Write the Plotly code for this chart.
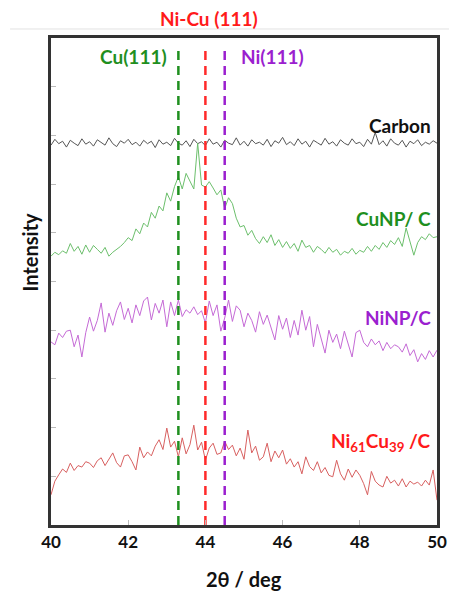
import numpy as np
import plotly.graph_objects as go

two_theta = [round(40 + 0.1 * i, 1) for i in range(101)]

carbon = [7.80,7.92,7.83,7.88,7.76,7.90,7.84,7.79,7.93,7.82,
          7.87,7.78,7.91,7.85,7.80,7.95,7.83,7.77,7.89,7.84,
          7.92,7.81,7.86,7.78,7.90,7.83,7.88,7.75,7.91,7.82,
          7.86,7.79,7.94,7.84,7.80,7.89,7.77,7.92,7.83,7.87,
          7.79,7.93,7.82,7.86,7.76,7.90,7.84,7.81,7.95,7.80,
          7.88,7.78,7.91,7.83,7.86,7.80,7.92,7.77,7.89,7.84,
          7.96,7.81,7.87,7.79,7.93,7.82,7.88,7.76,7.90,7.85,
          7.80,7.94,7.82,7.87,7.78,7.91,7.84,7.80,7.93,7.83,
          7.86,7.77,7.92,7.82,8.06,7.81,7.89,7.78,7.93,7.84,
          7.80,7.90,7.76,7.88,7.83,7.91,7.79,7.86,7.82,7.89,
          7.84]

cunp_c = [5.52,5.60,5.55,5.63,5.58,5.78,5.62,5.72,5.56,5.75,
          5.60,5.74,5.66,5.58,5.70,5.52,5.60,5.66,5.72,5.80,
          5.90,5.84,6.08,5.98,6.20,6.12,6.42,6.30,6.55,6.45,
          6.82,6.65,6.95,7.15,6.90,7.22,7.05,6.90,7.84,6.98,
          6.94,7.05,6.92,6.78,6.88,6.50,6.72,6.60,6.30,6.12,
          6.15,5.95,6.05,5.88,5.78,5.92,5.80,5.96,5.74,5.86,
          5.70,5.82,5.68,5.78,5.62,5.85,5.70,5.74,5.60,5.72,
          5.66,5.58,5.70,5.60,5.66,5.54,5.62,5.58,5.68,5.56,
          5.64,5.60,5.72,5.62,5.74,5.66,5.80,5.70,5.84,5.76,
          5.90,5.72,6.10,5.84,5.54,5.80,5.92,5.86,5.98,5.90,
          5.92]

ninp_c = [3.76,3.70,3.94,3.85,3.98,4.00,3.66,3.90,3.45,3.95,
          4.27,3.98,4.20,4.56,3.96,4.35,4.10,4.40,4.58,4.22,
          4.45,4.15,4.52,4.30,4.60,4.68,4.21,4.55,4.35,4.62,
          4.07,4.58,4.30,4.62,4.28,4.42,4.35,4.48,4.32,4.40,
          4.15,4.60,4.30,4.52,3.98,4.25,4.62,4.18,4.50,4.41,
          4.07,4.35,4.20,3.96,4.38,4.12,4.31,4.05,3.80,4.30,
          4.02,4.25,3.85,4.20,3.90,4.41,4.00,4.28,3.66,4.12,
          3.85,3.53,4.00,3.75,3.92,3.62,3.98,3.70,3.45,3.95,
          4.00,3.75,3.66,3.82,3.70,3.78,3.58,3.75,3.62,3.70,
          3.66,3.55,3.72,3.48,3.60,3.35,3.52,3.40,3.58,3.45,
          3.59]

ni61cu39_c = [0.62,0.90,1.03,1.15,1.08,1.27,1.12,1.22,1.19,1.30,
              1.27,1.18,1.32,1.38,1.22,1.35,1.48,1.28,1.19,1.42,
              1.44,1.30,1.13,1.60,1.38,1.50,1.42,1.62,1.75,1.55,
              1.99,1.60,1.72,1.40,1.79,1.46,1.65,2.05,1.54,1.70,
              1.33,1.58,1.68,1.45,1.48,1.72,1.55,1.64,1.42,1.58,
              1.35,1.95,1.48,1.62,1.33,1.40,1.68,1.30,1.52,1.38,
              1.54,1.25,1.36,1.19,1.30,1.05,1.40,1.20,1.12,1.30,
              1.07,1.18,1.02,0.99,1.33,1.05,0.92,1.15,0.98,1.13,
              1.02,0.85,0.62,1.10,0.90,0.82,0.78,1.00,0.86,0.92,
              0.80,0.95,0.78,0.90,0.84,0.88,0.80,0.92,0.82,1.13,
              0.51]

peak_names = ["Cu(111)", "Ni-Cu (111)", "Ni(111)"]
peak_positions = [43.3, 44.0, 44.5]
peak_colors = ["#1f8f1f", "#ff2a2a", "#9b1fcf"]

x_ticks = [40, 42, 44, 46, 48, 50]

FONT = "Lato"

fig = go.Figure()

series = [
    ("Carbon", carbon, "#555555"),
    ("CuNP/ C", cunp_c, "#6cbf6c"),
    ("NiNP/C", ninp_c, "#c56ad6"),
    ("Ni61Cu39 /C", ni61cu39_c, "#d86060"),
]
for name, ys, col in series:
    fig.add_trace(go.Scatter(x=two_theta, y=ys, mode="lines", name=name,
                             line=dict(color=col, width=1), showlegend=False))

for name, pos, col in zip(peak_names, peak_positions, peak_colors):
    fig.add_trace(go.Scatter(x=[pos, pos], y=[0, 9.8], mode="lines",
                             line=dict(color=col, width=2.5, dash="9px,6px"),
                             showlegend=False, hoverinfo="skip"))

# light separator line above the plot
fig.add_shape(type="line", xref="paper", yref="paper", x0=-0.106, x1=1.04,
              y0=1.0185, y1=1.0185, line=dict(color="#e2e2e2", width=1))

labels = [
    dict(text="Cu(111)", x=42.15, y=9.61, color="#1f8f1f", xanchor="center"),
    dict(text="Ni(111)", x=45.75, y=9.61, color="#9b1fcf", xanchor="center"),
    dict(text="Carbon", x=49.9, y=8.21, color="#111111", xanchor="right"),
    dict(text="CuNP/ C", x=49.9, y=6.30, color="#1f8f1f", xanchor="right"),
    dict(text="NiNP/C", x=49.9, y=4.27, color="#9b1fcf", xanchor="right"),
    dict(text="Ni<sub>61</sub>Cu<sub>39</sub> /C", x=49.9, y=1.70, color="#ff1a1a", xanchor="right"),
]
for lb in labels:
    fig.add_annotation(x=lb["x"], y=lb["y"], xref="x", yref="y", text="<b>%s</b>" % lb["text"],
                       showarrow=False, xanchor=lb["xanchor"], yanchor="middle",
                       font=dict(family=FONT, size=19, color=lb["color"]))

fig.add_annotation(x=44.1, y=1.041, xref="x", yref="paper", text="<b>Ni-Cu (111)</b>",
                   showarrow=False, xanchor="center", yanchor="middle",
                   font=dict(family=FONT, size=19, color="#ff1a1a"))

fig.add_annotation(x=-0.054, y=0.56, xref="paper", yref="paper", text="<b>Intensity</b>",
                   textangle=-90, showarrow=False, xanchor="center", yanchor="middle",
                   font=dict(family=FONT, size=20, color="#111111"))
fig.add_annotation(x=45.0, y=-0.111, xref="x", yref="paper", text="<b>2θ / deg</b>",
                   showarrow=False, xanchor="center", yanchor="middle",
                   font=dict(family=FONT, size=20, color="#111111"))

fig.update_xaxes(range=[40, 50], tickvals=x_ticks, ticktext=["<b>%d</b>" % t for t in x_ticks],
                 ticks="inside", ticklen=5, tickcolor="#bbbbbb", tickwidth=1,
                 showline=True, mirror=True, linecolor="#333333", linewidth=2.5,
                 showgrid=False, zeroline=False, automargin=False,
                 tickfont=dict(family=FONT, size=17, color="#111111"))
fig.update_yaxes(range=[0, 10], dtick=1, tick0=0, ticks="inside", ticklen=5,
                 tickcolor="#bbbbbb", tickwidth=1, showticklabels=False,
                 showline=True, mirror=True, linecolor="#333333", linewidth=2.5,
                 showgrid=False, zeroline=False, automargin=False)

fig.update_layout(width=449, height=592, margin=dict(l=51, r=12, t=38, b=67, autoexpand=False),
                  plot_bgcolor="white", paper_bgcolor="white")

# remove the browser's default 8px body margin so the figure fills the window exactly
fig.write_html("out.html", config={"displayModeBar": False},
               post_script="document.body.style.margin='0';document.body.style.overflow='hidden';")
